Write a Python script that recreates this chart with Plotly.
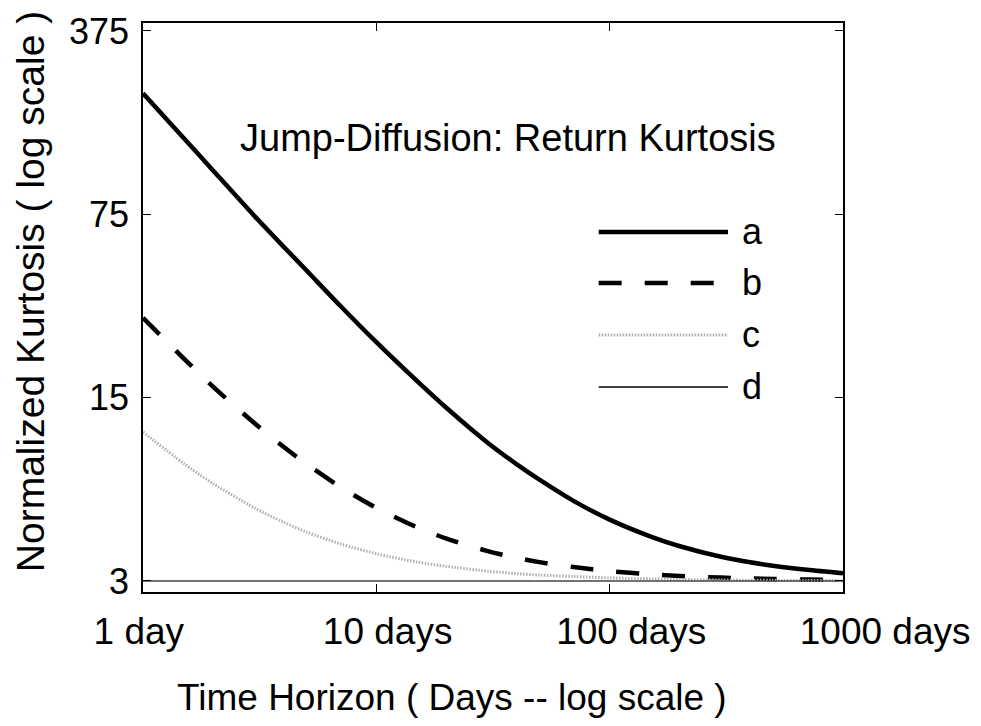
import plotly.graph_objects as go

# ---- data ----
horizon_days = [1, 1.5, 2, 3, 4, 5, 7, 10, 15, 20, 30, 40, 50, 70, 100, 150, 200, 300, 400, 500, 700, 1000]
kurt_a = [217, 146, 110, 74, 56.5, 46, 33.6, 24.4, 17.3, 13.7, 10.1, 8.35, 7.3, 6.06, 5.14, 4.43, 4.07, 3.71, 3.535, 3.43, 3.31, 3.21]
kurt_b = [30.2, 21.1, 16.5, 12.0, 9.75, 8.4, 6.86, 5.7, 4.8, 4.35, 3.9, 3.675, 3.54, 3.39, 3.27, 3.18, 3.135, 3.09, 3.0675, 3.054, 3.039, 3.027]
kurt_c = [11.1, 8.4, 7.05, 5.7, 5.03, 4.62, 4.16, 3.81, 3.54, 3.41, 3.27, 3.2, 3.16, 3.12, 3.08, 3.054, 3.04, 3.027, 3.02, 3.016, 3.012, 3.008]
horizon_d = [1, 1000]
kurt_d = [3, 3]

x_tickvals = [1, 10, 100, 1000]
x_ticktext = ["1 day", "10 days", "100 days", "1000 days"]
y_tickvals = [3, 15, 75, 375]
y_ticktext = ["3", "15", "75", "375"]

series_names = ["a", "b", "c", "d"]

FONT = "Liberation Sans, Arial, Helvetica, sans-serif"
NB = "\u00a0"

fig = go.Figure()
fig.add_trace(go.Scatter(x=horizon_days, y=kurt_a, mode="lines", name="a",
                         line=dict(color="black", width=4.5, shape="spline", smoothing=0.8)))
fig.add_trace(go.Scatter(x=horizon_days, y=kurt_b, mode="lines", name="b",
                         line=dict(color="black", width=4.5, dash="23px,23px", shape="spline", smoothing=0.8)))
fig.add_trace(go.Scatter(x=horizon_days, y=kurt_c, mode="lines", name="c",
                         line=dict(color="#b0b0b0", width=3, dash="1.5px,1.5px", shape="spline", smoothing=0.8)))
fig.add_trace(go.Scatter(x=horizon_d, y=kurt_d, mode="lines", name="d",
                         line=dict(color="#444444", width=1.3)))

# manual legend (samples + labels) in paper coordinates
leg_styles = [
    dict(color="black", width=4.5),
    dict(color="black", width=4.5, dash="23px,23px"),
    dict(color="#b0b0b0", width=3, dash="1.5px,1.5px"),
    dict(color="black", width=1.3),
]
leg_y = [0.6327, 0.5431, 0.4517, 0.3603]
for name, st, yy in zip(series_names, leg_styles, leg_y):
    fig.add_shape(type="line", xref="paper", yref="paper", x0=0.651, x1=0.8357, y0=yy, y1=yy,
                  line=st)
    fig.add_annotation(xref="paper", yref="paper", x=0.853, y=yy, text=name, showarrow=False,
                       xanchor="left", yanchor="middle", yshift=0,
                       font=dict(family=FONT, size=36, color="black"))

# title inside plot
fig.add_annotation(xref="paper", yref="paper", x=0.522, y=0.798, text="Jump-Diffusion: Return Kurtosis",
                   showarrow=False, xanchor="center", yanchor="middle",
                   font=dict(family=FONT, size=38, color="black"))
# axis titles
fig.add_annotation(xref="paper", yref="paper", x=-0.1614, y=0.527, text="Normalized Kurtosis ( log scale )",
                   showarrow=False, xanchor="center", yanchor="middle", textangle=-90,
                   font=dict(family=FONT, size=39, color="black"))
fig.add_annotation(xref="paper", yref="paper", x=(452 - 143) / 700, y=-0.185,
                   text="Time Horizon ( Days -- log scale )",
                   showarrow=False, xanchor="center", yanchor="middle",
                   font=dict(family=FONT, size=37, color="black"))

x_ticktext_disp = [x_ticktext[0] + NB, NB * 2 + x_ticktext[1], NB * 4 + x_ticktext[2], NB * 8 + x_ticktext[3]]

fig.update_xaxes(type="log", range=[0, 3], tickmode="array", tickvals=x_tickvals, ticktext=x_ticktext_disp,
                 ticks="inside", ticklen=8, tickwidth=1.3, tickcolor="black",
                 showline=True, linecolor="black", linewidth=1.6, mirror="ticks",
                 showgrid=False, zeroline=False, ticklabelshift=1, ticklabelstandoff=6,
                 tickfont=dict(family=FONT, size=37, color="black"))
fig.update_yaxes(type="log", range=[0.4351, 2.6045], tickmode="array", tickvals=y_tickvals, ticktext=y_ticktext,
                 ticks="inside", ticklen=8, tickwidth=1.3, tickcolor="black",
                 showline=True, linecolor="black", linewidth=1.6, mirror="ticks",
                 showgrid=False, zeroline=False, ticklabelstandoff=5,
                 tickfont=dict(family=FONT, size=36, color="black"))

# page body adds an 8px offset; size the figure so the plot lands at the reference position
fig.update_layout(width=973, height=718, showlegend=False,
                  margin=dict(l=135, r=138, t=15, b=134, autoexpand=False),
                  paper_bgcolor="white", plot_bgcolor="white")

fig.write_html("out.html")
